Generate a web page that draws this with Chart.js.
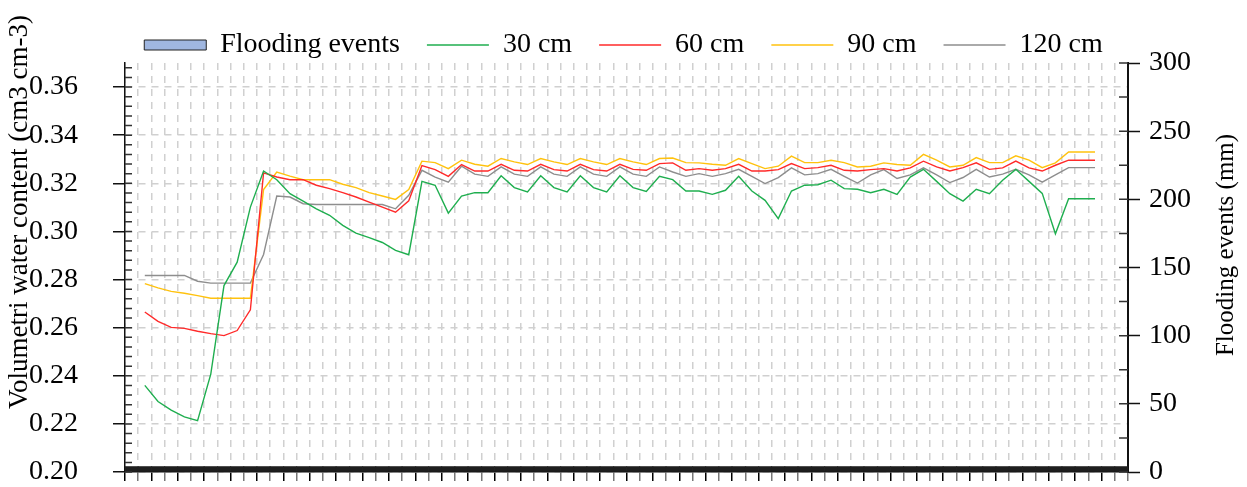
<!DOCTYPE html>
<html lang="en">
<head>
    <meta charset="UTF-8">
    <title>Volumetric water content and flooding events</title>
    <script src="https://cdn.jsdelivr.net/npm/chart.js"></script>
    <style>
        body { margin: 0; background: #fff; }
        canvas { display: block; }
    </style>
</head>
<body>
    <canvas id="mychart" width="1247" height="487"></canvas>
    <script>
        // categories (one per observation, no labels shown on the axis)
        const days = [1,2,3,4,5,6,7,8,9,10,11,12,13,14,15,16,17,18,19,20,21,22,23,24,25,26,27,28,29,30,
            31,32,33,34,35,36,37,38,39,40,41,42,43,44,45,46,47,48,49,50,51,52,53,54,55,56,57,58,59,60,
            61,62,63,64,65,66,67,68,69,70,71,72,73,74,75,76];

        const flooding = [4,4,4,4,4,4,4,4,4,4,4,4,4,4,4,4,4,4,4,4,4,4,4,4,4,4,4,4,4,4,
            4,4,4,4,4,4,4,4,4,4,4,4,4,4,4,4,4,4,4,4,4,4,4,4,4,4,4,4,4,4,
            4,4,4,4,4,4,4,4,4,4,4,4,4,4,4,4];

        const cm30 = [null,0.2360,0.2293,0.2257,0.2229,0.2213,0.2407,0.2775,0.2872,0.3101,0.3251,0.3215,0.3157,0.3126,0.3094,
            0.3067,0.3025,0.2993,0.2974,0.2954,0.2921,0.2903,0.3208,0.3192,0.3076,0.3147,0.3161,0.3161,0.3231,0.3182,
            0.3164,0.3231,0.3182,0.3164,0.3231,0.3182,0.3164,0.3231,0.3182,0.3166,0.3229,0.3215,0.3168,0.3168,0.3154,
            0.3171,0.3229,0.3168,0.3129,0.3053,0.3168,0.3192,0.3194,0.3213,0.3178,0.3175,0.3161,0.3175,0.3154,0.3226,
            0.3258,0.3208,0.3157,0.3126,0.3175,0.3157,0.3213,0.3258,0.3208,0.3158,0.2990,0.3136,0.3136,0.3136,null,null];

        const cm60 = [null,0.2665,0.2626,0.2601,0.2597,0.2585,0.2575,0.2567,0.2588,0.2674,0.3243,0.3226,0.3215,0.3215,0.3192,
            0.3178,0.3161,0.3143,0.3122,0.3101,0.3080,0.3127,0.3274,0.3257,0.3229,0.3278,0.3251,0.3251,0.3279,0.3254,
            0.3251,0.3279,0.3257,0.3251,0.3279,0.3257,0.3251,0.3279,0.3258,0.3254,0.3282,0.3285,0.3254,0.3261,0.3254,
            0.3261,0.3279,0.3251,0.3251,0.3257,0.3282,0.3261,0.3265,0.3275,0.3254,0.3251,0.3257,0.3261,0.3251,0.3264,
            0.3292,0.3268,0.3251,0.3265,0.3285,0.3258,0.3264,0.3292,0.3264,0.3251,0.3275,0.3296,0.3296,0.3296,null,null];

        const cm90 = [null,0.2783,0.2765,0.2751,0.2743,0.2733,0.2722,0.2722,0.2722,0.2722,0.3174,0.3247,0.3230,0.3215,0.3215,
            0.3215,0.3196,0.3182,0.3161,0.3147,0.3133,0.3174,0.3292,0.3286,0.3261,0.3296,0.3279,0.3271,0.3303,0.3289,
            0.3278,0.3303,0.3289,0.3278,0.3303,0.3289,0.3278,0.3303,0.3289,0.3278,0.3303,0.3305,0.3286,0.3285,0.3279,
            0.3275,0.3303,0.3282,0.3261,0.3271,0.3313,0.3286,0.3286,0.3296,0.3286,0.3268,0.3271,0.3285,0.3278,0.3275,
            0.3320,0.3296,0.3268,0.3275,0.3307,0.3286,0.3286,0.3314,0.3296,0.3265,0.3285,0.3330,0.3330,0.3330,null,null];

        const cm120 = [null,0.2817,0.2817,0.2817,0.2817,0.2793,0.2785,0.2785,0.2785,0.2785,0.2904,0.3147,0.3143,0.3115,0.3112,
            0.3112,0.3112,0.3112,0.3112,0.3112,0.3094,0.3150,0.3254,0.3226,0.3205,0.3271,0.3238,0.3229,0.3268,0.3238,
            0.3229,0.3268,0.3238,0.3229,0.3268,0.3238,0.3229,0.3268,0.3238,0.3229,0.3268,0.3247,0.3229,0.3240,0.3229,
            0.3240,0.3258,0.3229,0.3199,0.3224,0.3264,0.3235,0.3240,0.3258,0.3229,0.3201,0.3235,0.3257,0.3220,0.3235,
            0.3264,0.3235,0.3203,0.3224,0.3258,0.3226,0.3238,0.3258,0.3235,0.3205,0.3235,0.3265,0.3265,0.3265,null,null];

        const leftTicks = [0.20,0.22,0.24,0.26,0.28,0.30,0.32,0.34,0.36];
        const rightTicks = [0,50,100,150,200,250,300];

        const leftTitle = 'Volumetri water content (cm3 cm-3)';
        const rightTitle = 'Flooding events (mm)';

        const serif = "'Liberation Serif', 'DejaVu Serif', serif";

        // legend sits above the plot; fix its height so the plot starts where the original does
        const legendHeight = {
            id: 'legendHeight',
            beforeInit(chart) {
                const fit = chart.legend.fit;
                chart.legend.fit = function() {
                    fit.bind(chart.legend)();
                    this.height = 59;
                };
            }
        };

        // short inward ticks on both value axes, plus both axis titles (read bottom to top)
        const innerTicks = {
            id: 'innerTicks',
            afterDraw(chart) {
                const ctx = chart.ctx;
                const y = chart.scales.y;
                const y1 = chart.scales.y1;
                ctx.save();
                ctx.strokeStyle = '#333';
                ctx.lineWidth = 1.5;
                ctx.beginPath();
                for (let k = 0; k <= 42; k++) {
                    const p = y.getPixelForValue(0.2 + k * 0.004);
                    ctx.moveTo(y.right, p);
                    ctx.lineTo(y.right + 7, p);
                }
                for (let k = 0; k <= 12; k++) {
                    const p = y1.getPixelForValue(k * 25);
                    ctx.moveTo(y1.left - 9, p);
                    ctx.lineTo(y1.left, p);
                }
                ctx.stroke();

                ctx.fillStyle = '#000';
                ctx.textAlign = 'center';
                ctx.textBaseline = 'middle';
                ctx.save();
                ctx.font = '27px ' + serif;
                ctx.translate(20, 212);
                ctx.rotate(-Math.PI / 2);
                ctx.fillText(leftTitle, 0, 0);
                ctx.restore();
                ctx.font = '25px ' + serif;
                ctx.translate(1226, 245);
                ctx.rotate(-Math.PI / 2);
                ctx.fillText(rightTitle, 0, 0);
                ctx.restore();
            }
        };

        // tick padding should only push labels sideways, not shrink the plot vertically
        const noVertPad = scale => {
            scale.paddingTop = 0;
            scale.paddingBottom = 0;
        };

        const lineSet = (label, data, color) => ({
            type: 'line',
            label: label,
            data: data,
            yAxisID: 'y',
            borderColor: color,
            backgroundColor: color,
            borderWidth: 1.4,
            pointRadius: 0,
            pointHoverRadius: 0,
            pointStyle: 'line',
            tension: 0,
            spanGaps: false
        });

        const chart = new Chart(document.querySelector('#mychart'), {
            type: 'bar',
            data: {
                labels: days,
                datasets: [
                    {
                        type: 'bar',
                        label: 'Flooding events',
                        data: flooding,
                        yAxisID: 'y1',
                        backgroundColor: '#1e1e1e',
                        borderWidth: 0,
                        barPercentage: 1,
                        categoryPercentage: 1,
                        pointStyle: 'rect'
                    },
                    lineSet('30 cm', cm30, '#1fae4f'),
                    lineSet('60 cm', cm60, '#ff2a2a'),
                    lineSet('90 cm', cm90, '#ffc20e'),
                    lineSet('120 cm', cm120, '#8e8e8e')
                ]
            },
            options: {
                responsive: false,
                animation: false,
                layout: { padding: { top: 4, left: 0, right: 0, bottom: 0 } },
                plugins: {
                    tooltip: { enabled: false },
                    legend: {
                        position: 'top',
                        labels: {
                            color: '#000',
                            font: { family: serif, size: 28 },
                            usePointStyle: true,
                            pointStyleWidth: 62,
                            boxHeight: 10,
                            padding: 27,
                            generateLabels(chart) {
                                const items = Chart.defaults.plugins.legend.labels.generateLabels(chart);
                                items.forEach((it, i) => {
                                    if (i === 0) {
                                        it.fillStyle = '#9fb6e0';
                                        it.strokeStyle = '#222';
                                        it.lineWidth = 1;
                                        it.pointStyle = 'rect';
                                    } else {
                                        it.lineWidth = 1.4;
                                        it.pointStyle = 'line';
                                    }
                                });
                                return items;
                            }
                        }
                    }
                },
                scales: {
                    x: {
                        offset: true,
                        grid: {
                            offset: true,
                            color: '#d0d0d0',
                            lineWidth: 1.5,
                            tickLength: 9,
                            tickWidth: 1.5,
                            tickColor: ctx => (ctx.index % 2 === 0 ? '#000' : '#777')
                        },
                        border: { color: '#111', width: 1.5, dash: [7, 6] },
                        ticks: { display: false, autoSkip: false },
                        afterFit(scale) { scale.height = 15; }
                    },
                    y: {
                        position: 'left',
                        min: 0.20,
                        max: 0.37,
                        afterBuildTicks(scale) { scale.ticks = leftTicks.map(v => ({ value: v })); },
                        ticks: {
                            color: '#000',
                            font: { family: serif, size: 28 },
                            padding: 35,
                            callback: v => v.toFixed(2)
                        },
                        grid: {
                            color: '#d0d0d0',
                            lineWidth: 1.5,
                            tickLength: 12,
                            tickColor: '#111',
                            tickWidth: 1.5
                        },
                        border: { color: '#111', width: 1.5, dash: [7, 6] },
                        afterFit(scale) { scale.width = 125; noVertPad(scale); }
                    },
                    y1: {
                        position: 'right',
                        min: 0,
                        max: 300,
                        afterBuildTicks(scale) { scale.ticks = rightTicks.map(v => ({ value: v })); },
                        ticks: {
                            color: '#000',
                            font: { family: serif, size: 28 },
                            padding: 9
                        },
                        grid: {
                            drawOnChartArea: false,
                            tickLength: 12,
                            tickColor: '#111',
                            tickWidth: 1.5
                        },
                        border: { color: '#111', width: 2 },
                        afterFit(scale) { scale.width = 119; noVertPad(scale); }
                    }
                }
            },
            plugins: [legendHeight, innerTicks]
        });
    </script>
</body>
</html>
